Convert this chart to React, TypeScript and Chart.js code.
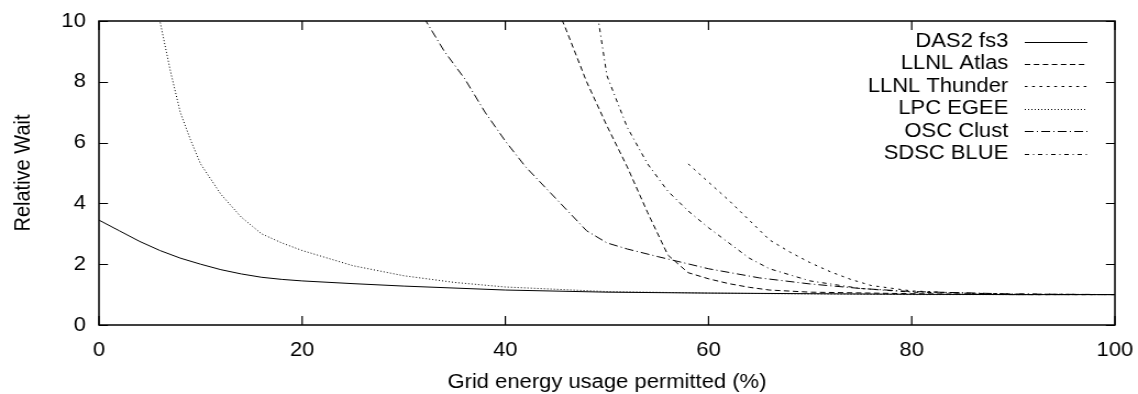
import React, { useEffect, useRef } from "react";
import { Chart, registerables } from "chart.js";

Chart.register(...registerables);

const xTicks = [0, 20, 40, 60, 80, 100];
const yTicks = [0, 2, 4, 6, 8, 10];

const seriesNames = ["DAS2 fs3", "LLNL Atlas", "LLNL Thunder", "LPC EGEE", "OSC Clust", "SDSC BLUE"];

const das2X = [0, 2, 4, 6, 8, 10, 12, 14, 16, 18, 20, 25, 30, 40, 50, 60, 70, 80, 90, 100];
const das2Y = [3.45, 3.1, 2.75, 2.45, 2.2, 2.0, 1.82, 1.68, 1.57, 1.5, 1.45, 1.36, 1.28, 1.15, 1.08, 1.05, 1.03, 1.01, 1.0, 1.0];

const atlasX = [44, 46, 48, 50, 52, 54, 56, 58, 60, 62, 64, 66, 70, 80, 90, 100];
const atlasY = [11.3, 9.7, 8.0, 6.55, 5.2, 3.7, 2.3, 1.72, 1.52, 1.36, 1.24, 1.15, 1.08, 1.03, 1.0, 1.0];

const thunderX = [58, 60, 62, 64, 66, 68, 70, 72, 74, 76, 80, 85, 90, 100];
const thunderY = [5.3, 4.7, 4.1, 3.45, 2.8, 2.4, 2.05, 1.75, 1.5, 1.3, 1.12, 1.05, 1.0, 1.0];

const lpcX = [5, 6, 7, 8, 9, 10, 12, 14, 16, 18, 20, 25, 30, 35, 40, 50, 60, 70, 80, 100];
const lpcY = [12, 10, 8.4, 7.0, 6.1, 5.3, 4.3, 3.55, 3.0, 2.7, 2.45, 1.95, 1.62, 1.4, 1.25, 1.1, 1.05, 1.02, 1.0, 1.0];

const oscX = [30, 32, 34, 36, 38, 40, 42, 44, 46, 48, 50, 52, 55, 60, 65, 70, 75, 80, 90, 100];
const oscY = [12, 10.1, 9.0, 8.1, 7.0, 6.05, 5.2, 4.5, 3.8, 3.1, 2.7, 2.5, 2.25, 1.85, 1.55, 1.35, 1.2, 1.1, 1.02, 1.0];

const sdscX = [48, 50, 52, 54, 56, 58, 60, 62, 64, 66, 70, 75, 80, 90, 100];
const sdscY = [12.5, 8.2, 6.5, 5.3, 4.4, 3.75, 3.2, 2.7, 2.2, 1.85, 1.45, 1.2, 1.08, 1.02, 1.0];

const seriesX = [das2X, atlasX, thunderX, lpcX, oscX, sdscX];
const seriesY = [das2Y, atlasY, thunderY, lpcY, oscY, sdscY];
const seriesDash: number[][] = [[], [5, 3.2], [2.5, 4.2], [1, 2], [8, 3, 1, 3], [4, 3.5, 1, 3.5]];

const FONT = "'Liberation Sans', Arial, Helvetica, sans-serif";

// the reference is horizontally stretched; draw on a narrower canvas and stretch it
const OUT_W = 1138;
const IN_W = 1035;
const H = 394;

const frame = {
  id: "frame",
  afterDatasetsDraw(chart: any) {
    const { ctx, chartArea: a, scales } = chart;
    const xs = scales.x;
    const ys = scales.y;
    ctx.save();
    ctx.strokeStyle = "#000";
    ctx.lineWidth = 1.5;
    ctx.setLineDash([]);
    ctx.strokeRect(a.left, a.top, a.right - a.left, a.bottom - a.top);
    const LV = 9;
    const LH = 8.2;
    ctx.lineWidth = 1.2;
    ctx.beginPath();
    xTicks.forEach((v) => {
      const px = xs.getPixelForValue(v);
      ctx.moveTo(px, a.bottom);
      ctx.lineTo(px, a.bottom - LV);
      ctx.moveTo(px, a.top);
      ctx.lineTo(px, a.top + LV);
    });
    yTicks.forEach((v) => {
      const py = Math.round(ys.getPixelForValue(v)) + 0.5;
      ctx.moveTo(a.left, py);
      ctx.lineTo(a.left + LH, py);
      ctx.moveTo(a.right, py);
      ctx.lineTo(a.right - LH, py);
    });
    ctx.stroke();

    // legend
    ctx.font = `20px ${FONT}`;
    ctx.fillStyle = "#000";
    ctx.textAlign = "right";
    ctx.textBaseline = "middle";
    seriesNames.forEach((name, i) => {
      const y = 41.5 + i * 22.4;
      ctx.fillText(name, 917, y);
      ctx.beginPath();
      ctx.setLineDash(seriesDash[i]);
      ctx.lineWidth = 1;
      ctx.moveTo(932, Math.round(y) + 0.5);
      ctx.lineTo(989, Math.round(y) + 0.5);
      ctx.stroke();
    });
    ctx.restore();
  },
};

export default function App() {
  const ref = useRef<HTMLCanvasElement | null>(null);
  useEffect(() => {
    if (!ref.current) return;
    const datasets = seriesNames.map((name, i) => ({
      label: name,
      data: seriesX[i].map((x, j) => ({ x, y: seriesY[i][j] })),
      borderColor: "#000",
      borderWidth: 1,
      borderDash: seriesDash[i],
      pointRadius: 0,
      fill: false,
      tension: 0,
    }));
    const chart = new Chart(ref.current, {
      type: "line",
      data: { datasets },
      options: {
        animation: false,
        responsive: true,
        maintainAspectRatio: false,
        layout: { padding: { top: 21, right: 21, left: 0, bottom: 0 } },
        plugins: { legend: { display: false }, tooltip: { enabled: false } },
        scales: {
          x: {
            type: "linear",
            min: 0,
            max: 100,
            afterBuildTicks: (s: any) => {
              s.ticks = xTicks.map((v) => ({ value: v }));
            },
            afterFit: (s: any) => {
              s.height = 69;
              s.paddingLeft = 0;
              s.paddingRight = 0;
            },
            grid: { display: false, drawTicks: false },
            border: { display: false },
            ticks: { color: "#000", font: { family: FONT, size: 20 }, padding: 13, maxRotation: 0 },
            title: {
              display: true,
              text: "Grid energy usage permitted (%)",
              color: "#000",
              font: { family: FONT, size: 20 },
              padding: { top: 0, bottom: 0 },
            },
          },
          y: {
            type: "linear",
            min: 0,
            max: 10,
            afterBuildTicks: (s: any) => {
              s.ticks = yTicks.map((v) => ({ value: v }));
            },
            afterFit: (s: any) => {
              s.width = 90;
              s.paddingTop = 0;
              s.paddingBottom = 0;
            },
            grid: { display: false, drawTicks: false },
            border: { display: false },
            ticks: { color: "#000", font: { family: FONT, size: 20 }, padding: 12 },
            title: {
              display: true,
              text: "Relative Wait",
              color: "#000",
              font: { family: FONT, size: 20 },
              padding: { top: 9, bottom: 0 },
            },
          },
        },
      },
      plugins: [frame],
    });
    return () => chart.destroy();
  }, []);
  return (
    <div style={{ position: "fixed", left: 0, top: 0, width: OUT_W, height: H, overflow: "hidden", background: "#fff" }}>
      <div
        style={{
          width: IN_W,
          height: H,
          transform: `scaleX(${OUT_W / IN_W})`,
          transformOrigin: "0 0",
        }}
      >
        <canvas ref={ref} />
      </div>
    </div>
  );
}
